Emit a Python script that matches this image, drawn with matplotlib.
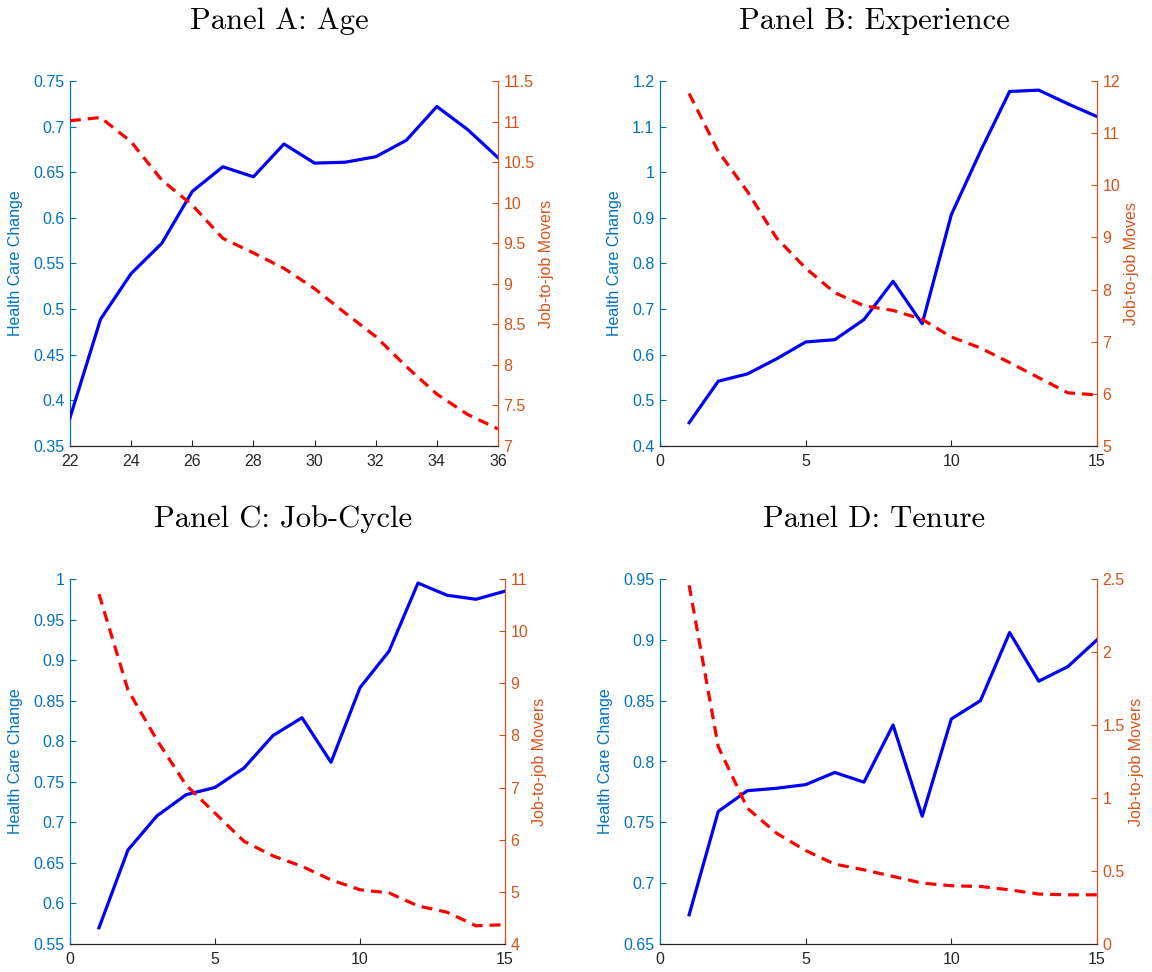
import matplotlib
matplotlib.use("Agg")
import matplotlib.pyplot as plt

# Panel A: age
age = list(range(22, 37))
age_health = [0.381, 0.489, 0.539, 0.572, 0.629, 0.656, 0.645, 0.681, 0.660, 0.661, 0.667, 0.685, 0.722, 0.697, 0.666]
age_movers = [11.01, 11.05, 10.75, 10.28, 9.97, 9.56, 9.38, 9.19, 8.94, 8.64, 8.35, 7.98, 7.64, 7.39, 7.21]

# Panel B: experience
years = list(range(1, 16))
exp_health = [0.451, 0.542, 0.558, 0.591, 0.628, 0.633, 0.677, 0.761, 0.668, 0.907, 1.046, 1.177, 1.180, 1.150, 1.122]
exp_movers = [11.76, 10.65, 9.88, 8.99, 8.41, 7.94, 7.69, 7.60, 7.43, 7.09, 6.88, 6.60, 6.31, 6.02, 5.98]

# Panel C: job-cycle
cyc_health = [0.570, 0.666, 0.708, 0.734, 0.743, 0.767, 0.807, 0.829, 0.774, 0.866, 0.911, 0.995, 0.980, 0.975, 0.985]
cyc_movers = [10.71, 8.87, 7.91, 7.05, 6.51, 5.97, 5.69, 5.49, 5.23, 5.04, 4.98, 4.73, 4.61, 4.35, 4.37]

# Panel D: tenure
ten_health = [0.674, 0.759, 0.776, 0.778, 0.781, 0.791, 0.783, 0.830, 0.755, 0.835, 0.850, 0.906, 0.866, 0.878, 0.900]
ten_movers = [2.457, 1.351, 0.930, 0.759, 0.640, 0.547, 0.508, 0.463, 0.417, 0.399, 0.394, 0.371, 0.342, 0.337, 0.337]

LEFT_C = "#0072BD"
RIGHT_C = "#D95319"
AX_C = "#262626"

plt.rcParams["font.family"] = ["Liberation Sans", "DejaVu Sans"]

fig = plt.figure(figsize=(11.52, 9.72), dpi=100)
W, H = 1152, 972

panels = [
    # title, x, left, right, rect(px), xlim, xticks, ylim L, yticks L, ylim R, yticks R, right label
    ("Panel A: Age", age, age_health, age_movers, (70, 81, 498, 446), (22, 36), range(22, 37, 2),
     (0.35, 0.75), [0.35, 0.4, 0.45, 0.5, 0.55, 0.6, 0.65, 0.7, 0.75],
     (7, 11.5), [7, 7.5, 8, 8.5, 9, 9.5, 10, 10.5, 11, 11.5], "Job-to-job Movers"),
    ("Panel B: Experience", years, exp_health, exp_movers, (660, 81, 1097, 446), (0, 15), [0, 5, 10, 15],
     (0.4, 1.2), [0.4, 0.5, 0.6, 0.7, 0.8, 0.9, 1.0, 1.1, 1.2],
     (5, 12), [5, 6, 7, 8, 9, 10, 11, 12], "Job-to-job Moves"),
    ("Panel C: Job-Cycle", years, cyc_health, cyc_movers, (70, 579, 505, 944), (0, 15), [0, 5, 10, 15],
     (0.55, 1.0), [0.55, 0.6, 0.65, 0.7, 0.75, 0.8, 0.85, 0.9, 0.95, 1.0],
     (4, 11), [4, 5, 6, 7, 8, 9, 10, 11], "Job-to-job Movers"),
    ("Panel D: Tenure", years, ten_health, ten_movers, (660, 579, 1097, 944), (0, 15), [0, 5, 10, 15],
     (0.65, 0.95), [0.65, 0.7, 0.75, 0.8, 0.85, 0.9, 0.95],
     (0, 2.5), [0, 0.5, 1, 1.5, 2, 2.5], "Job-to-job Movers"),
]


def fmt(v):
    s = ("%.2f" % v).rstrip("0").rstrip(".")
    return s


for (title, x, hc, mv, rect, xlim, xt, yl, ytl, yr, ytr, rlabel) in panels:
    x0, y0, x1, y1 = rect
    ax = fig.add_axes([x0 / W, 1 - y1 / H, (x1 - x0) / W, (y1 - y0) / H])
    ax2 = ax.twinx()

    ax.plot(x, hc, color="blue", lw=2.3, zorder=3)
    ax2.plot(x, mv, color="red", lw=2.3, ls=(0, (3.4, 2.2)))

    ax.set_xlim(*xlim)
    ax.set_xticks(list(xt))
    ax.set_ylim(*yl)
    ax.set_yticks(ytl)
    ax.set_yticklabels([fmt(v) for v in ytl])
    ax2.set_ylim(*yr)
    ax2.set_yticks(ytr)
    ax2.set_yticklabels([fmt(v) for v in ytr])

    for a in (ax, ax2):
        a.spines["top"].set_visible(False)
        a.spines["bottom"].set_color(AX_C)
        a.spines["left"].set_color(LEFT_C)
        a.spines["right"].set_color(RIGHT_C)
        a.spines["left"].set_linewidth(0.9)
        a.spines["right"].set_linewidth(0.9)
    ax.spines["right"].set_visible(False)
    ax2.spines["left"].set_visible(False)

    ax.tick_params(axis="x", direction="in", length=4, colors=AX_C, labelsize=11.5, pad=6)
    ax.tick_params(axis="y", direction="in", length=4, colors=LEFT_C, labelsize=11.5, pad=4)
    ax2.tick_params(axis="y", direction="in", length=4, colors=RIGHT_C, labelsize=11.5, pad=4)

    ax.set_ylabel("Health Care Change", color=LEFT_C, fontsize=11.5, labelpad=7)
    ax2.set_ylabel(rlabel, color=RIGHT_C, fontsize=11.5, labelpad=3)

    fig.text((x0 + x1) / 2 / W - 0.004, 1 - (y0 - 60) / H, title, fontfamily="cmr10",
             fontsize=22, ha="center", va="center", color="black")

fig.savefig("out.png", dpi=100, facecolor="white")
